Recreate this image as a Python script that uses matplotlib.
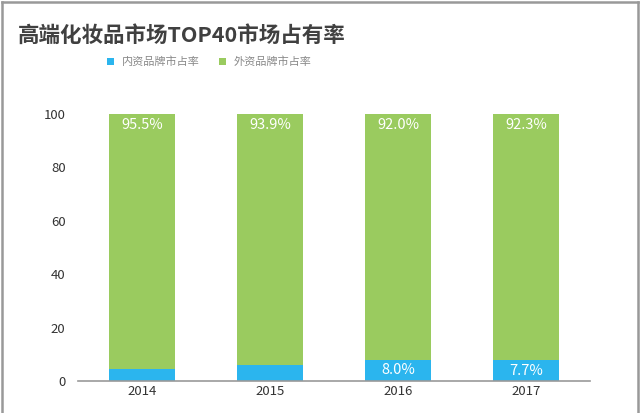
import matplotlib
matplotlib.use("Agg")
import matplotlib.pyplot as plt
from matplotlib.patches import Rectangle
from matplotlib.lines import Line2D

plt.rcParams['font.family'] = ['Noto Sans CJK SC', 'DejaVu Sans']

years = ['2014', '2015', '2016', '2017']
domestic = [4.5, 6.1, 8.0, 7.7]
foreign = [95.5, 93.9, 92.0, 92.3]
domestic_labels = ['', '', '8.0%', '7.7%']
foreign_labels = ['95.5%', '93.9%', '92.0%', '92.3%']
series_names = ['内资品牌市占率', '外资品牌市占率']
yticks = [0, 20, 40, 60, 80, 100]

BLUE = '#2BB5EE'
GREEN = '#9ACB5F'

W, H = 641, 413
fig = plt.figure(figsize=(W / 100, H / 100), dpi=100)
ax = fig.add_axes([78 / W, (H - 381) / H, (590 - 78) / W, (381 - 114) / H])

x = list(range(len(years)))
ax.bar(x, domestic, width=0.51, color=BLUE, zorder=2)
ax.bar(x, foreign, width=0.51, bottom=domestic, color=GREEN, zorder=2)

for i in x:
    top = domestic[i] + foreign[i]
    ax.text(i, top - 4, foreign_labels[i], ha='center', va='center',
            color='white', fontsize=10.5, zorder=3)
    if domestic_labels[i]:
        ax.text(i, domestic[i] / 2, domestic_labels[i], ha='center', va='center',
                color='white', fontsize=10.5, zorder=3)

ax.set_xlim(-0.5, 3.5)
ax.set_ylim(0, 100)
ax.set_xticks(x)
ax.set_xticklabels(years)
ax.set_yticks(yticks)
ax.tick_params(axis='both', length=0, labelsize=9.5, colors='#333333')
ax.tick_params(axis='y', pad=9)
ax.tick_params(axis='x', pad=3)
for s in ['top', 'right', 'left']:
    ax.spines[s].set_visible(False)
ax.spines['bottom'].set_color('#999999')
ax.spines['bottom'].set_linewidth(1.2)

# title
fig.text(18 / W, 1 - 35 / H, '高端化妆品市场TOP40市场占有率', ha='left', va='center',
         fontsize=15.5, fontweight='bold', color='#404040')

# legend
legend_items = [(107, BLUE, 122, series_names[0]), (219, GREEN, 234, series_names[1])]
for sx, col, tx, name in legend_items:
    fig.patches.append(Rectangle((sx / W, 1 - 65 / H), 7 / W, 7 / H, transform=fig.transFigure,
                                 facecolor=col, edgecolor='none'))
    fig.text(tx / W, 1 - 61.5 / H, name, ha='left', va='center', fontsize=8, color='#888888')

# frame (left, top, right only)
fx0, fx1, fy1 = 1.5 / W, 637.5 / W, 1 - 1.5 / H
for xs, ys in [([fx0, fx0], [0, fy1]), ([fx0, fx1], [fy1, fy1]), ([fx1, fx1], [fy1, 0])]:
    fig.lines.append(Line2D(xs, ys, transform=fig.transFigure, color='#999999', linewidth=1.8))

fig.savefig('out.png', dpi=100)
